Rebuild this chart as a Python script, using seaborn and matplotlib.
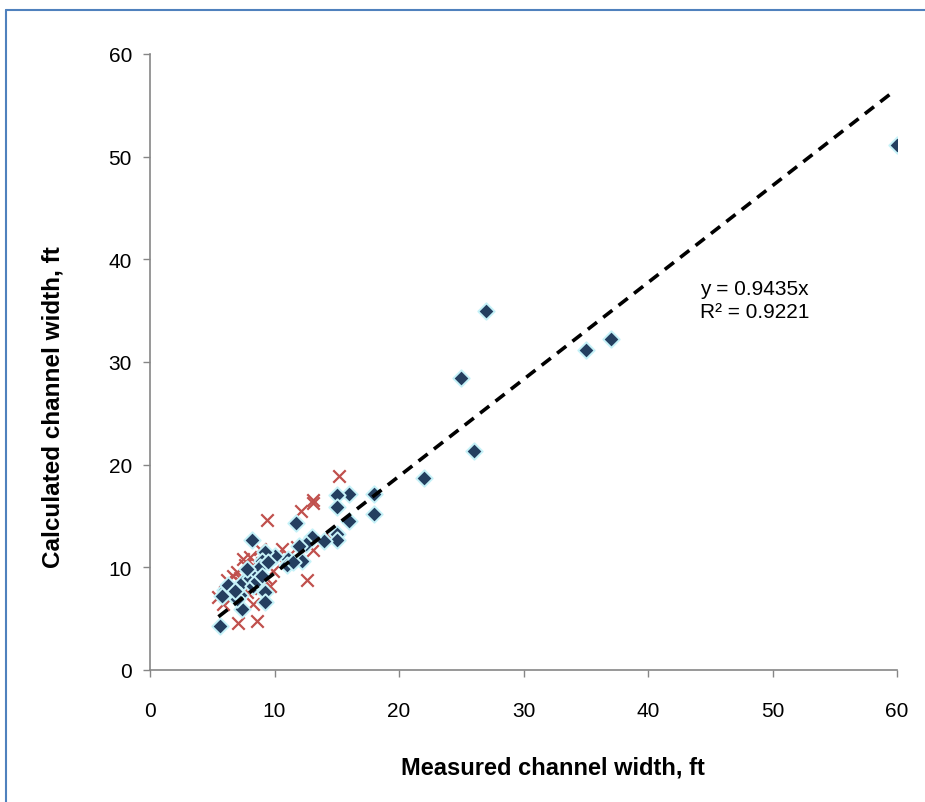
import matplotlib
matplotlib.use("Agg")
import matplotlib.pyplot as plt
from matplotlib.lines import Line2D
import seaborn as sns
import pandas as pd
import numpy as np

# Blue diamond series (measured, calculated)
blue_x = [60, 27, 25, 26, 35, 37, 22, 18, 18, 16, 16, 15, 15, 15, 15, 14, 13, 12.5, 12, 12.2,
          11.7, 11.1, 11, 10, 9.2, 9.0, 8.2, 9.2, 9.2, 7.4, 5.6,
          6.0, 6.5, 7.0, 7.5, 8.0, 8.5, 7.2, 8.3, 8.8, 6.3, 7.8, 8.6, 9.0, 7.0, 9.5, 11.5, 5.8, 6.8]
blue_y = [51.1, 35.0, 28.4, 21.3, 31.2, 32.2, 18.7, 17.1, 15.2, 17.1, 14.5, 17.0, 15.9, 13.2, 12.7, 12.6, 13.0, 12.3, 12.1, 10.6,
          14.3, 10.8, 10.2, 11.1, 11.5, 10.6, 12.7, 7.6, 6.6, 5.9, 4.3,
          7.8, 7.5, 8.0, 8.6, 9.0, 9.5, 7.3, 8.2, 10.0, 8.3, 9.8, 8.7, 9.2, 6.9, 10.5, 10.5, 7.2, 7.7]

# Red cross series
red_x = [15.2, 13.1, 13.1, 12.1, 9.4, 14.6, 13.1, 10.6, 12.6, 8.8, 7.1, 8.6, 7.5, 8.3, 6.7, 9.6, 8.6,
         5.5, 5.9, 8.3, 6.2, 7.0, 7.6, 8.0, 9.0, 7.3, 6.5, 8.9, 9.9, 7.8, 6.0, 10.2, 11.8, 8.4, 9.3, 7.2, 6.8]
red_y = [18.9, 16.6, 16.3, 15.5, 14.6, 12.8, 11.7, 11.8, 8.8, 11.8, 4.6, 4.8, 10.8, 10.2, 9.2, 8.2, 9.2,
         7.1, 6.4, 6.4, 8.8, 9.5, 10.2, 11.0, 10.4, 8.5, 7.0, 8.0, 9.6, 7.6, 7.6, 11.0, 12.0, 9.8, 9.0, 9.0, 8.2]

slope = 0.9435
r2 = 0.9221
trend_x = [5.5, 59.5]

x_ticks = [0, 10, 20, 30, 40, 50, 60]
y_ticks = [0, 10, 20, 30, 40, 50, 60]

sns.set_style("white")
plt.rcParams['font.family'] = ['Liberation Sans', 'DejaVu Sans']
plt.rcParams['text.color'] = 'black'
plt.rcParams['xtick.color'] = 'black'
plt.rcParams['ytick.color'] = 'black'
plt.rcParams['axes.labelcolor'] = 'black'

fig = plt.figure(figsize=(9.25, 8.03), dpi=100)
ax = fig.add_axes([150/925, 1-671/803, (897-150)/925, (671-55)/803])

df_b = pd.DataFrame({"x": blue_x, "y": blue_y})
df_r = pd.DataFrame({"x": red_x, "y": red_y})

sns.scatterplot(data=df_r, x="x", y="y", ax=ax, marker="x", color="#C0504D",
                s=80, linewidth=1.6, zorder=3)
sns.scatterplot(data=df_b, x="x", y="y", ax=ax, marker="D", color="#243F60",
                edgecolor="#C6F2F8", linewidth=1.4, s=70, zorder=4)

tx = np.array(trend_x)
ax.plot(tx, slope * tx, linestyle=(0, (3.2, 2.2)), color="black", linewidth=2.6, zorder=5)

ax.text(44.2, 38.1, f"y = {slope}x\nR² = {r2}", fontsize=15, va="top", ha="left",
        linespacing=1.25)

ax.set_xlim(0, 60)
ax.set_ylim(0, 60)
ax.set_xticks(x_ticks)
ax.set_yticks(y_ticks)
ax.tick_params(axis="both", labelsize=15, direction="out", length=5, width=1,
               bottom=True, left=True, labelcolor="black")
ax.tick_params(axis="both", color="#868686")
ax.tick_params(axis="x", pad=17)
ax.tick_params(axis="y", pad=8)
for side in ["top", "right"]:
    ax.spines[side].set_visible(False)
for side in ["left", "bottom"]:
    ax.spines[side].set_color("#868686")
    ax.spines[side].set_linewidth(1.2)

ax.set_xlabel("Measured channel width, ft", fontsize=17, fontweight="bold")
ax.set_ylabel("Calculated channel width, ft", fontsize=17.5, fontweight="bold")
ax.xaxis.set_label_coords((553 - 150) / 747, -(757 - 671) / 616)
ax.yaxis.set_label_coords(-(150 - 65) / 747, (671 - 407) / 616)

# figure border lines (top and left)
fig.add_artist(Line2D([6/925, 1.0], [1-11/803, 1-11/803], color="#4F81BD", linewidth=1.5,
                      transform=fig.transFigure))
fig.add_artist(Line2D([6/925, 6/925], [0, 1-11/803], color="#4F81BD", linewidth=1.5,
                      transform=fig.transFigure))

fig.savefig("out.png", dpi=100)
